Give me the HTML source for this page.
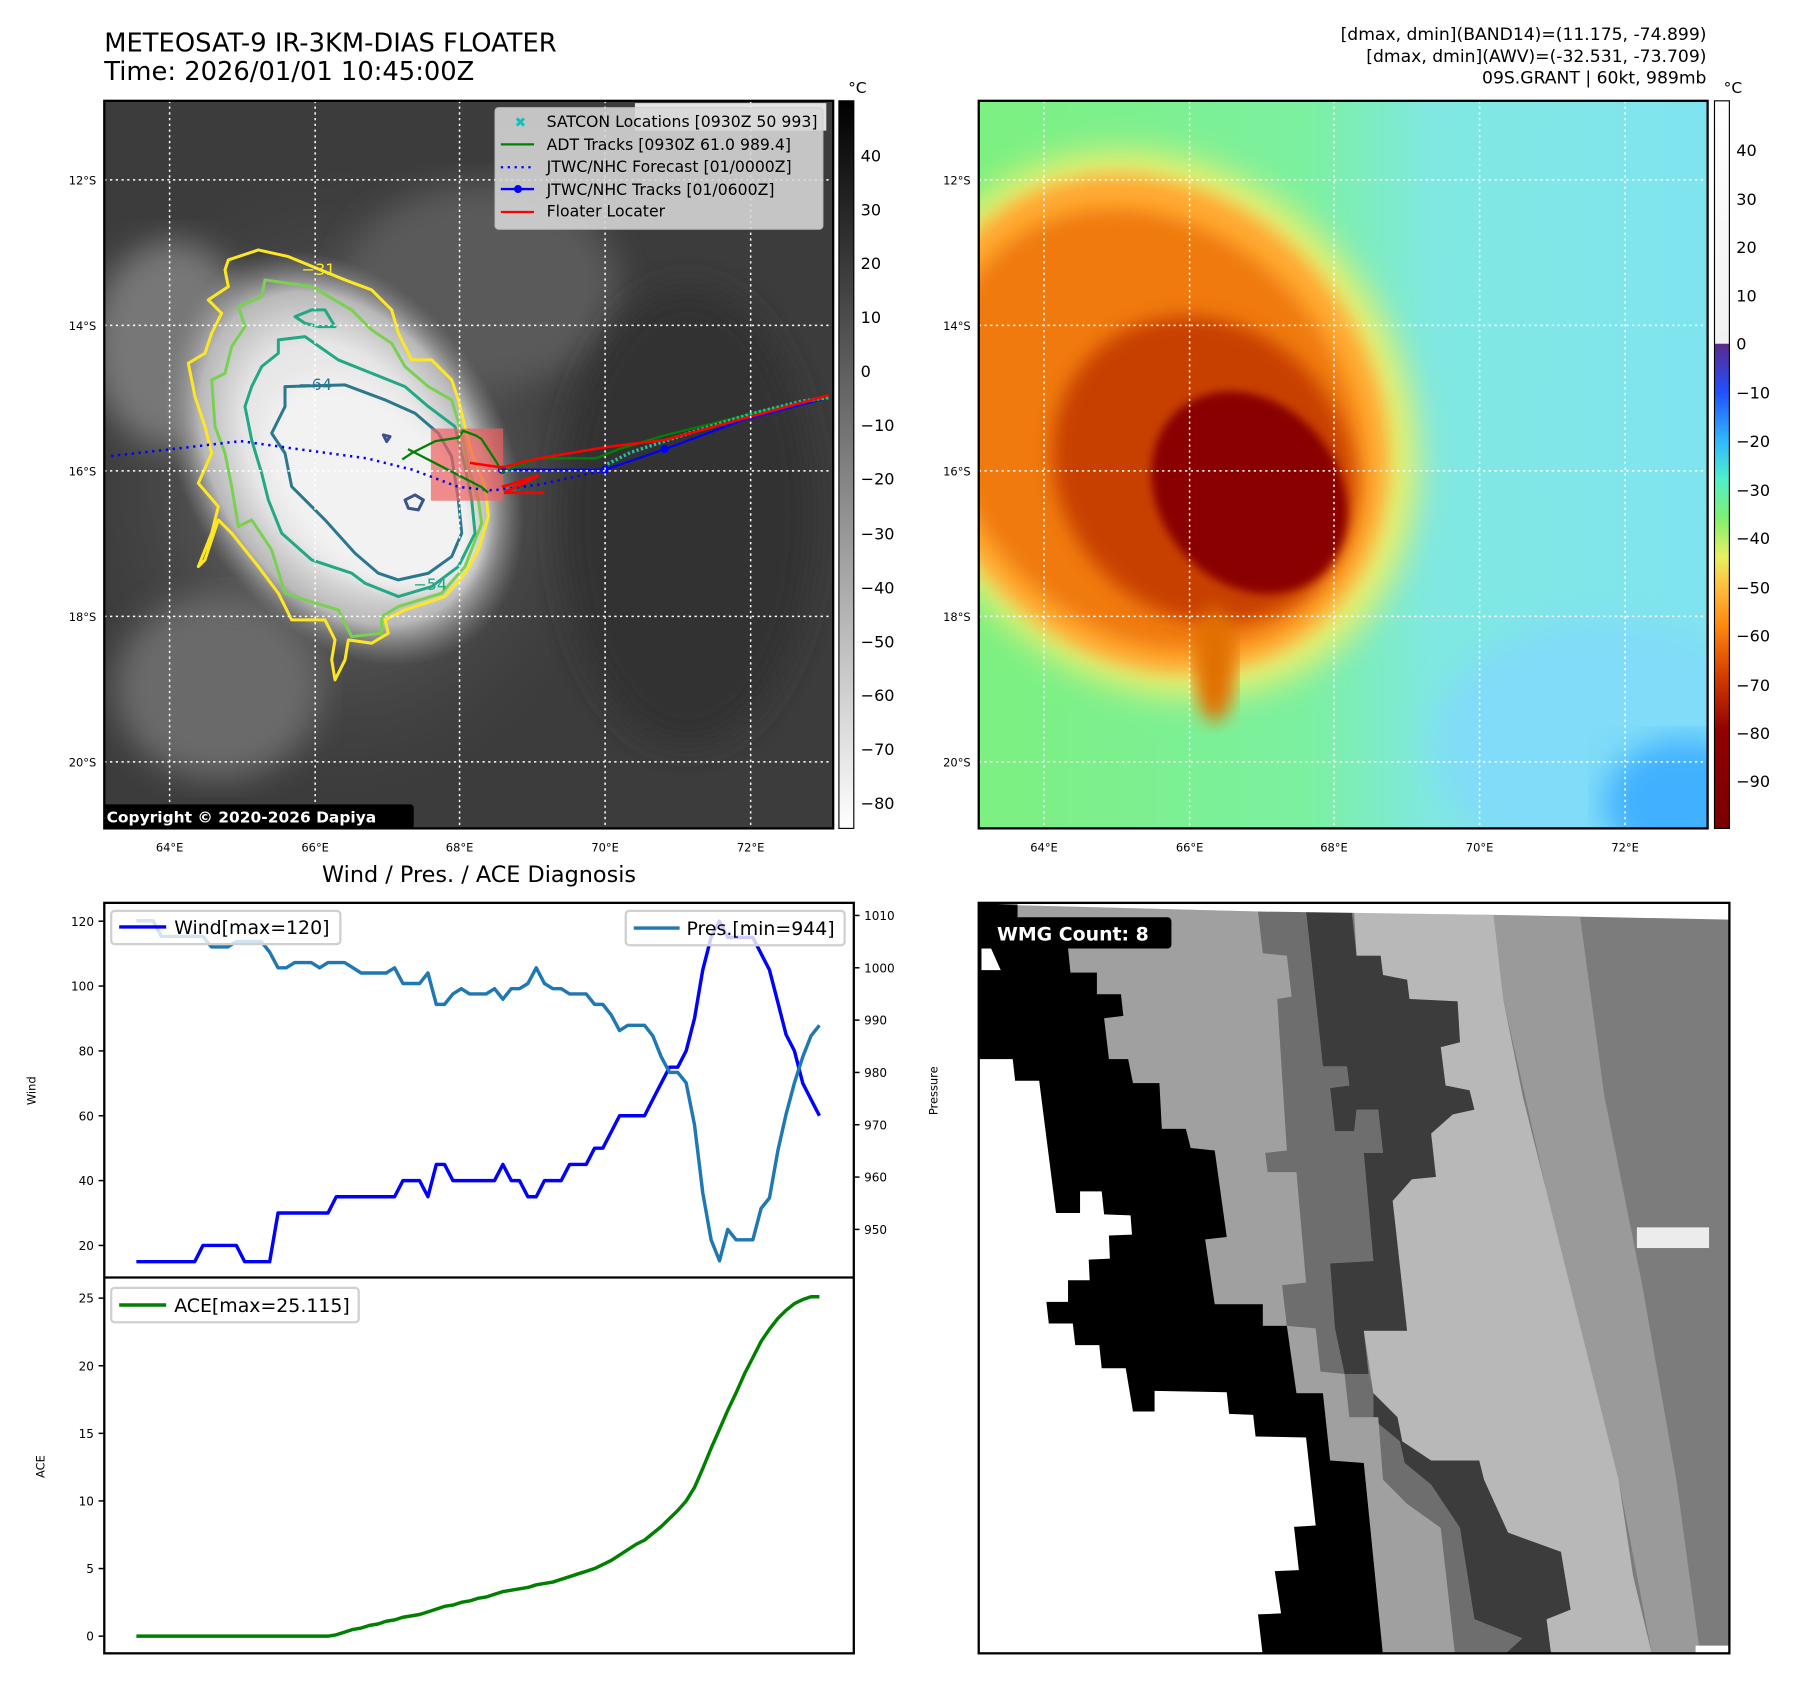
<!DOCTYPE html>
<html><head><meta charset="utf-8">
<style>
html,body{margin:0;padding:0;background:#fff;}
svg{display:block;font-family:"DejaVu Sans","Liberation Sans",sans-serif;}
</style></head>
<body>
<svg id="root" width="1797" height="1690" viewBox="0 0 1568 1475" preserveAspectRatio="none" xmlns="http://www.w3.org/2000/svg">
<defs>
  <filter id="blur8"><feGaussianBlur stdDeviation="8"/></filter>
  <filter id="blur14"><feGaussianBlur stdDeviation="14"/></filter>
  <filter id="blur4"><feGaussianBlur stdDeviation="4"/></filter>
  <clipPath id="clipL"><rect x="91" y="88" width="636" height="635"/></clipPath>
  <clipPath id="clipR"><rect x="854" y="88" width="636" height="635"/></clipPath>
  <clipPath id="clipB"><rect x="854" y="788" width="655" height="655"/></clipPath>
  <linearGradient id="cbGray" x1="0" y1="0" x2="0" y2="1">
    <stop offset="0" stop-color="#000"/><stop offset="1" stop-color="#fff"/>
  </linearGradient>
  <linearGradient id="cbTop" x1="0" y1="0" x2="0" y2="1">
    <stop offset="0" stop-color="#fff"/><stop offset="1" stop-color="#f2f2f2"/>
  </linearGradient>
  <linearGradient id="cbCol" x1="0" y1="0" x2="0" y2="1">
    <stop offset="0" stop-color="#5b2a8c"/>
    <stop offset="0.1" stop-color="#2050ff"/>
    <stop offset="0.2" stop-color="#30b8ff"/>
    <stop offset="0.28" stop-color="#50f0c8"/>
    <stop offset="0.36" stop-color="#80f070"/>
    <stop offset="0.44" stop-color="#e8f060"/>
    <stop offset="0.5" stop-color="#ffc040"/>
    <stop offset="0.58" stop-color="#ff8a10"/>
    <stop offset="0.68" stop-color="#d84000"/>
    <stop offset="0.8" stop-color="#900000"/>
    <stop offset="1" stop-color="#7a0000"/>
  </linearGradient>
  <radialGradient id="cloudG" cx="0.5" cy="0.5" r="0.5">
    <stop offset="0" stop-color="#f4f4f4"/><stop offset="0.55" stop-color="#e6e6e6"/>
    <stop offset="0.8" stop-color="#b8b8b8"/><stop offset="1" stop-color="#888" stop-opacity="0"/>
  </radialGradient>
  <radialGradient id="haloG" cx="0.5" cy="0.5" r="0.5">
    <stop offset="0" stop-color="#8a8a8a"/><stop offset="1" stop-color="#3a3a3a" stop-opacity="0"/>
  </radialGradient>
  <linearGradient id="rBg" x1="0" y1="0" x2="1" y2="0">
    <stop offset="0" stop-color="#7cf080"/><stop offset="0.45" stop-color="#7cf0a0"/>
    <stop offset="0.62" stop-color="#80e8e0"/><stop offset="1" stop-color="#80e4f0"/>
  </linearGradient>
</defs>

<text x="91" y="45" font-size="22.5">METEOSAT-9 IR-3KM-DIAS FLOATER</text>
<text x="91" y="70" font-size="22.5">Time: 2026/01/01 10:45:00Z</text>
<g font-size="15" text-anchor="end">
  <text x="1489" y="35">[dmax, dmin](BAND14)=(11.175, -74.899)</text>
  <text x="1489" y="54">[dmax, dmin](AWV)=(-32.531, -73.709)</text>
  <text x="1489" y="73">09S.GRANT | 60kt, 989mb</text>
</g>

<!-- LEFT MAP -->
<g clip-path="url(#clipL)">
  <rect x="91" y="88" width="636" height="635" fill="#3c3c3c"/>
  <ellipse cx="300" cy="420" rx="260" ry="300" fill="url(#haloG)"/>
  <ellipse cx="190" cy="600" rx="90" ry="80" fill="#6a6a6a" filter="url(#blur14)"/>
  <ellipse cx="150" cy="300" rx="70" ry="90" fill="#777" filter="url(#blur14)"/>
  <ellipse cx="420" cy="250" rx="120" ry="90" fill="#5a5a5a" filter="url(#blur14)"/>
  <ellipse cx="600" cy="450" rx="110" ry="200" fill="#323232" filter="url(#blur14)"/>
  <ellipse cx="300" cy="400" rx="140" ry="195" transform="rotate(-32 300 400)" fill="url(#cloudG)"/>
  <ellipse cx="325" cy="425" rx="70" ry="110" transform="rotate(-45 325 425)" fill="#f2f2f2" filter="url(#blur8)"/>
  <g transform="translate(91.6,174.5) scale(0.2909)" fill="none" stroke-width="9" stroke-linejoin="round">
    <polygon stroke="#fde725" points="370,180 460,150 550,170 720,240 800,270 860,330 880,400 920,480 980,480 1040,540 1060,600 1080,680 1100,760 1140,860 1150,950 1120,1050 1080,1120 1020,1190 900,1230 840,1260 850,1300 800,1330 730,1320 720,1380 690,1440 680,1380 690,1320 660,1260 560,1260 520,1180 460,1100 380,1000 340,960 300,1080 280,1100 320,1000 340,920 280,850 320,760 300,680 270,590 250,490 300,460 320,400 350,340 310,300 370,260 360,210"/>
    <polygon stroke="#7ad151" points="480,240 620,260 740,330 800,390 860,430 900,500 970,560 1040,600 1070,700 1090,800 1120,900 1130,970 1080,1100 1010,1180 880,1220 830,1250 830,1300 740,1310 700,1230 600,1200 540,1180 500,1050 440,960 400,980 380,860 360,760 330,680 320,540 360,520 380,440 420,380 400,320 470,290"/>
    <polygon stroke="#22a884" points="520,420 600,410 700,480 800,520 900,560 970,620 1050,680 1080,800 1100,900 1110,1000 1060,1100 980,1160 880,1190 780,1150 740,1120 620,1080 530,1000 490,900 470,820 440,720 420,620 440,560 470,500 520,460"/>
    <polygon stroke="#22a884" points="570,350 620,330 660,330 690,380 640,380 600,370"/>
    <polygon stroke="#2a788e" points="540,560 720,555 840,600 930,640 1000,700 1040,770 1060,900 1070,1000 1040,1070 970,1120 880,1140 820,1120 750,1060 660,960 560,860 540,760 500,700 540,620"/>
    <polygon stroke="#3b528b" points="900,900 930,885 955,900 940,930 910,925"/>
    <polygon stroke="#3b528b" points="835,705 855,710 845,725"/>
    <text x="590" y="225" font-size="48" fill="#fde725" stroke="none">−31</text>
    <text x="580" y="570" font-size="48" fill="#2a788e" stroke="none">−64</text>
    <text x="925" y="1170" font-size="48" fill="#22a884" stroke="none">−54</text>
  </g>
  <rect x="376" y="374" width="63" height="63" fill="#f06060" opacity="0.7"/>
  <polyline points="97,398 150,392 210,385 260,392 320,400 360,410 400,425 430,428 470,423 530,410" fill="none" stroke="#0000ff" stroke-width="2.2" stroke-dasharray="2,4"/>
  <polyline points="438,410 480,410 528,410 580,392 650,366 723,347" fill="none" stroke="#0000ff" stroke-width="2"/>
  <circle cx="438" cy="410" r="3.5" fill="#00f"/><circle cx="528" cy="410" r="3.5" fill="#00f"/><circle cx="580" cy="392" r="3.5" fill="#00f"/>
  <polyline points="351,401 360,395 380,385 400,382 404,376 415,380 420,383 433,403 438,412 470,400 520,400 540,392 580,380 620,370 680,355 723,347" fill="none" stroke="#008000" stroke-width="2"/>
  <polyline points="356,392 420,425 426,430" fill="none" stroke="#008000" stroke-width="2"/>
  <polyline points="530,405 550,395 580,385 620,372 660,360 700,350 723,347" fill="none" stroke="#20c0a0" stroke-width="3" stroke-dasharray="2,2"/>
  <polyline points="410,404 438,408 470,400 530,390 580,384 650,365 723,345" fill="none" stroke="#ff0000" stroke-width="2.2"/>
  <polyline points="438,425 470,415 440,430 475,430" fill="none" stroke="#ff0000" stroke-width="2.5"/>
  <g stroke="#fff" stroke-width="1.3" stroke-dasharray="2,3">
    <line x1="91" y1="157" x2="727" y2="157"/><line x1="91" y1="284" x2="727" y2="284"/><line x1="91" y1="411" x2="727" y2="411"/><line x1="91" y1="538" x2="727" y2="538"/><line x1="91" y1="665" x2="727" y2="665"/>
    <line x1="148" y1="88" x2="148" y2="723"/><line x1="275" y1="88" x2="275" y2="723"/><line x1="401" y1="88" x2="401" y2="723"/><line x1="528" y1="88" x2="528" y2="723"/><line x1="655" y1="88" x2="655" y2="723"/>
  </g>
  <rect x="554" y="90" width="167" height="24" fill="#fff" opacity="0.85"/>
  <g>
    <rect x="432" y="94" width="286" height="106" rx="3" fill="#d8d8d8" opacity="0.88" stroke="#ccc"/>
    <text x="449" y="111" font-size="12" fill="#10c0c0" font-weight="bold">✖</text>
    <line x1="437" y1="126" x2="466" y2="126" stroke="#008000" stroke-width="2"/>
    <line x1="437" y1="146" x2="466" y2="146" stroke="#00f" stroke-width="2" stroke-dasharray="2,4"/>
    <line x1="437" y1="165" x2="466" y2="165" stroke="#00f" stroke-width="2"/><circle cx="452" cy="165" r="3.5" fill="#00f"/>
    <line x1="437" y1="185" x2="466" y2="185" stroke="#f00" stroke-width="2"/>
    <g font-size="13.7" fill="#000">
      <text x="477" y="111">SATCON Locations [0930Z 50 993]</text>
      <text x="477" y="131">ADT Tracks [0930Z 61.0 989.4]</text>
      <text x="477" y="150">JTWC/NHC Forecast [01/0000Z]</text>
      <text x="477" y="170">JTWC/NHC Tracks [01/0600Z]</text>
      <text x="477" y="189">Floater Locater</text>
    </g>
  </g>
  <rect x="89" y="702" width="272" height="21" rx="3" fill="#000"/>
  <text x="93" y="718" font-size="13.5" font-weight="bold" fill="#fff">Copyright © 2020-2026 Dapiya</text>
</g>
<rect x="91" y="88" width="636" height="635" fill="none" stroke="#000" stroke-width="2"/>
<g font-size="10" text-anchor="end">
  <text x="84" y="161">12°S</text><text x="84" y="288">14°S</text><text x="84" y="415">16°S</text><text x="84" y="542">18°S</text><text x="84" y="669">20°S</text>
</g>
<g font-size="10" text-anchor="middle">
  <text x="148" y="743">64°E</text><text x="275" y="743">66°E</text><text x="401" y="743">68°E</text><text x="528" y="743">70°E</text><text x="655" y="743">72°E</text>
</g>
<g>
  <rect x="732" y="88" width="13" height="635" fill="url(#cbGray)" stroke="#000" stroke-width="1"/>
  <text x="740" y="81" font-size="13.5">°C</text>
  <g font-size="14">
    <text x="751" y="141">40</text><text x="751" y="188">30</text><text x="751" y="235">20</text><text x="751" y="282">10</text><text x="751" y="329">0</text>
    <text x="751" y="376">−10</text><text x="751" y="423">−20</text><text x="751" y="471">−30</text><text x="751" y="518">−40</text><text x="751" y="565">−50</text>
    <text x="751" y="612">−60</text><text x="751" y="659">−70</text><text x="751" y="706">−80</text>
  </g>
</g>

<!-- RIGHT MAP -->
<g clip-path="url(#clipR)">
  <rect x="854" y="88" width="636" height="635" fill="url(#rBg)"/>
  <ellipse cx="1400" cy="650" rx="150" ry="110" fill="#80dcf8" filter="url(#blur14)"/>
  <ellipse cx="1470" cy="700" rx="70" ry="55" fill="#40b0ff" filter="url(#blur14)"/>
  <ellipse cx="1010" cy="370" rx="215" ry="250" transform="rotate(-35 1010 370)" fill="#e8f070" filter="url(#blur14)"/>
  <ellipse cx="1005" cy="370" rx="195" ry="228" transform="rotate(-35 1005 370)" fill="#ffa830" filter="url(#blur8)"/>
  <ellipse cx="1005" cy="375" rx="170" ry="205" transform="rotate(-38 1005 375)" fill="#f07a10" filter="url(#blur8)"/>
  <ellipse cx="1050" cy="410" rx="125" ry="140" transform="rotate(-40 1050 410)" fill="#c84000" filter="url(#blur8)"/>
  <ellipse cx="1090" cy="430" rx="78" ry="95" transform="rotate(-40 1090 430)" fill="#8a0000" filter="url(#blur4)"/>
  <ellipse cx="1060" cy="580" rx="18" ry="50" fill="#e07000" filter="url(#blur8)"/>
  <g stroke="#fff" stroke-width="1.3" stroke-dasharray="2,3">
    <line x1="854" y1="157" x2="1490" y2="157"/><line x1="854" y1="284" x2="1490" y2="284"/><line x1="854" y1="411" x2="1490" y2="411"/><line x1="854" y1="538" x2="1490" y2="538"/><line x1="854" y1="665" x2="1490" y2="665"/>
    <line x1="911" y1="88" x2="911" y2="723"/><line x1="1038" y1="88" x2="1038" y2="723"/><line x1="1164" y1="88" x2="1164" y2="723"/><line x1="1291" y1="88" x2="1291" y2="723"/><line x1="1418" y1="88" x2="1418" y2="723"/>
  </g>
</g>
<rect x="854" y="88" width="636" height="635" fill="none" stroke="#000" stroke-width="2"/>
<g font-size="10" text-anchor="end">
  <text x="847" y="161">12°S</text><text x="847" y="288">14°S</text><text x="847" y="415">16°S</text><text x="847" y="542">18°S</text><text x="847" y="669">20°S</text>
</g>
<g font-size="10" text-anchor="middle">
  <text x="911" y="743">64°E</text><text x="1038" y="743">66°E</text><text x="1164" y="743">68°E</text><text x="1291" y="743">70°E</text><text x="1418" y="743">72°E</text>
</g>
<g>
  <rect x="1496" y="88" width="13" height="212" fill="url(#cbTop)"/>
  <rect x="1496" y="300" width="13" height="423" fill="url(#cbCol)"/>
  <rect x="1496" y="88" width="13" height="635" fill="none" stroke="#000" stroke-width="1"/>
  <text x="1504" y="81" font-size="13.5">°C</text>
  <g font-size="14">
    <text x="1515" y="136">40</text><text x="1515" y="179">30</text><text x="1515" y="221">20</text><text x="1515" y="263">10</text><text x="1515" y="305">0</text>
    <text x="1515" y="348">−10</text><text x="1515" y="390">−20</text><text x="1515" y="433">−30</text><text x="1515" y="475">−40</text><text x="1515" y="518">−50</text>
    <text x="1515" y="560">−60</text><text x="1515" y="603">−70</text><text x="1515" y="645">−80</text><text x="1515" y="687">−90</text>
  </g>
</g>

<!-- BOTTOM RIGHT WMG -->
<g clip-path="url(#clipB)">
  <g transform="translate(854.3,788) scale(0.4196)">
    <rect x="0" y="0" width="1566" height="1566" fill="#7c7c7c"/>
    <polygon fill="#9a9a9a" points="1070,25 1250,30 1300,400 1380,800 1450,1200 1500,1566 1400,1566 1330,1200 1280,1000 1180,600 1090,200"/>
    <polygon fill="#b8b8b8" points="780,20 1070,25 1090,200 1130,400 1180,600 1230,800 1280,1000 1330,1200 1360,1400 1400,1566 1190,1566 1180,1490 1230,1470 1210,1350 1100,1310 1050,1200 1040,1160 940,1160 880,1120 870,1070 820,1020 800,890 890,890 860,620 900,575 950,570 940,480 985,440 1030,430 1020,390 970,380 960,300 1000,290 995,205 895,200 890,160 840,150 835,110 785,110"/>
    <polygon fill="#3c3c3c" points="680,18 775,18 785,110 835,110 840,150 890,160 895,200 995,205 1000,290 960,300 970,380 1020,390 1030,430 985,440 940,480 950,570 900,575 860,620 890,890 800,890 810,980 760,980 740,885 730,750 820,745 800,520 840,520 830,430 785,430 780,475 740,475 730,385 770,380 765,340 715,340 690,110"/>
    <polygon fill="#3c3c3c" points="820,1020 870,1070 880,1120 940,1160 1040,1160 1050,1200 1100,1310 1210,1350 1230,1470 1180,1490 1190,1566 1090,1566 1090,1535 1130,1530 1030,1490 1000,1300 940,1210 885,1165 875,1120 820,1075"/>
    <polygon fill="#6e6e6e" points="580,18 680,18 690,110 715,340 765,340 770,380 730,385 740,475 780,475 785,430 830,430 840,520 800,520 820,745 730,750 740,885 760,980 810,980 820,1020 820,1075 875,1120 885,1165 940,1210 1000,1300 1030,1490 1130,1530 1090,1566 990,1566 960,1300 890,1250 840,1200 830,1070 770,1070 760,980 710,975 700,885 640,880 630,795 680,790 660,560 600,560 595,520 640,515 620,200 650,195 640,110 590,105"/>
    <polygon fill="#a0a0a0" points="80,5 580,18 590,105 640,110 650,195 620,200 640,515 595,520 600,560 660,560 680,790 630,795 640,880 700,885 710,975 760,980 770,1070 830,1070 840,1200 890,1250 960,1300 990,1566 840,1566 800,1165 730,1160 715,1020 660,1020 640,880 590,880 590,835 490,835 470,700 515,695 490,515 440,510 430,470 380,470 375,375 320,375 310,325 270,325 260,240 300,235 295,190 245,190 245,145 190,145 185,95 80,95"/>
    <polygon fill="#000" points="0,0 80,5 80,95 185,95 190,145 245,145 245,190 295,190 300,235 260,240 270,325 310,325 320,375 375,375 380,470 430,470 440,510 490,515 515,695 470,700 490,835 590,835 590,880 640,880 660,1020 715,1020 730,1160 800,1165 840,1566 0,1566"/>
    <polygon fill="#fff" points="0,325 70,325 75,370 125,370 160,645 210,645 210,600 255,600 260,648 315,650 318,690 270,692 272,740 228,742 230,785 185,785 185,830 140,830 145,875 195,875 200,920 250,920 255,968 305,968 320,1058 365,1058 365,1015 515,1018 520,1063 570,1065 575,1110 680,1112 700,1295 655,1298 665,1388 615,1390 628,1478 580,1480 590,1566 0,1566"/>
    <polygon fill="#fff" points="5,95 25,95 45,140 5,140"/>
    <polygon fill="#fff" points="80,0 1566,0 1566,35 1070,25 580,18 80,5"/>
    <rect x="1368" y="675" width="150" height="43" fill="#ececec"/>
    <rect x="1490" y="1545" width="76" height="21" fill="#fff"/>
    <rect x="25" y="30" width="375" height="65" rx="8" fill="#000"/>
  </g>
  <text x="870" y="821" font-size="16.5" font-weight="bold" fill="#fff">WMG Count: 8</text>
</g>
<rect x="854" y="788" width="655" height="655" fill="none" stroke="#000" stroke-width="2"/>

<!-- BOTTOM LEFT CHART -->
<text x="418" y="770" font-size="19.5" text-anchor="middle">Wind / Pres. / ACE Diagnosis</text>
<g id="chart"></g>
<rect x="91" y="788" width="654" height="655" fill="none" stroke="#000" stroke-width="2"/>
<line x1="91" y1="1115" x2="745" y2="1115" stroke="#000" stroke-width="2"/>
<text transform="translate(31,952) rotate(-90)" font-size="10" text-anchor="middle">Wind</text>
<text transform="translate(818,952) rotate(-90)" font-size="10" text-anchor="middle">Pressure</text>
<text transform="translate(39,1280) rotate(-90)" font-size="10" text-anchor="middle">ACE</text>
<g>
  <rect x="97" y="795" width="200" height="29" rx="3" fill="#fff" fill-opacity="0.8" stroke="#d0d0d0" stroke-width="2"/>
  <line x1="104" y1="809" x2="145" y2="809" stroke="#0000ff" stroke-width="3"/>
  <text x="152" y="815" font-size="16.5">Wind[max=120]</text>
</g>
<g>
  <rect x="546" y="795" width="191" height="30" rx="3" fill="#fff" fill-opacity="0.8" stroke="#d0d0d0" stroke-width="2"/>
  <line x1="553" y1="810" x2="593" y2="810" stroke="#1f77b4" stroke-width="3"/>
  <text x="599" y="816" font-size="16.5">Pres.[min=944]</text>
</g>
<g>
  <rect x="97" y="1124" width="216" height="30" rx="3" fill="#fff" fill-opacity="0.8" stroke="#d0d0d0" stroke-width="2"/>
  <line x1="104" y1="1139" x2="145" y2="1139" stroke="#008000" stroke-width="3"/>
  <text x="152" y="1145" font-size="16.5">ACE[max=25.115]</text>
</g>
</svg>
<script>
const windValues = [15,15,15,15,15,15,15,15,20,20,20,20,20,15,15,15,15,30,30,30,30,30,30,30,35,35,35,35,35,35,35,35,40,40,40,35,45,45,40,40,40,40,40,40,45,40,40,35,35,40,40,40,45,45,45,50,50,55,60,60,60,60,65,70,75,75,80,90,105,115,120,115,115,115,115,110,105,95,85,80,70,65,60];
const presValues = [1009,1009,1009,1006,1006,1006,1006,1006,1006,1004,1004,1004,1005,1005,1005,1005,1003,1000,1000,1001,1001,1001,1000,1001,1001,1001,1000,999,999,999,999,1000,997,997,997,999,993,993,995,996,995,995,995,996,994,996,996,997,1000,997,996,996,995,995,995,993,993,991,988,989,989,989,987,983,980,980,978,970,957,948,944,950,948,948,948,954,956,965,972,978,983,987,989];
const aceValues = [0,0,0,0,0,0,0,0,0,0,0,0,0,0,0,0,0,0,0,0,0,0,0,0,0.1,0.3,0.5,0.6,0.8,0.9,1.1,1.2,1.4,1.5,1.6,1.8,2.0,2.2,2.3,2.5,2.6,2.8,2.9,3.1,3.3,3.4,3.5,3.6,3.8,3.9,4.0,4.2,4.4,4.6,4.8,5.0,5.3,5.6,6.0,6.4,6.8,7.1,7.6,8.1,8.7,9.3,10.0,11.0,12.4,13.9,15.3,16.7,18.0,19.4,20.6,21.8,22.7,23.5,24.1,24.6,24.9,25.1,25.1];
const windTicks = [20,40,60,80,100,120];
const presTicks = [950,960,970,980,990,1000,1010];
const aceTicks = [0,5,10,15,20,25];

const NS = 'http://www.w3.org/2000/svg';
const chart = document.getElementById('chart');
const n = windValues.length;
function xPos(i){ return 119 + (715-119) * i / (n-1); }
function yWind(v){ return 1087 - (v-20) * (1087-804) / 100; }
function yPres(v){ return 1073 - (v-950) * (1073-799) / 60; }
function yAce(v){ return 1428 - v * (1428-1133) / 25; }

function mk(tag, attrs){ const e = document.createElementNS(NS, tag); for (const k in attrs) e.setAttribute(k, attrs[k]); return e; }

function axis(ticks, fy, x, dir, name){
  ticks.forEach(t => {
    const y = fy(t);
    const ln = mk('line', {x1:x, y1:y, x2:x+dir*5, y2:y, stroke:'#000', 'stroke-width':1.3});
    
    
    chart.appendChild(ln);
    const tx = mk('text', {x: dir<0 ? x-9 : x+9, y: y+4, 'font-size': 10.5, 'text-anchor': dir<0 ? 'end' : 'start'});
    tx.textContent = t;
    
    
    chart.appendChild(tx);
  });
}
axis(windTicks, yWind, 91, -1, 'wind-axis');
axis(presTicks, yPres, 745, 1, 'pressure-axis');
axis(aceTicks, yAce, 91, -1, 'ace-axis');

function line(vals, fy, color, name){
  const pts = vals.map((v,i) => xPos(i).toFixed(1) + ',' + fy(v).toFixed(1)).join(' ');
  const pl = mk('polyline', {points: pts, fill:'none', stroke: color, 'stroke-width': 3, 'stroke-linejoin':'round'});
  
  
  chart.appendChild(pl);
}
line(windValues, yWind, '#0000ff', 'wind-line');
line(presValues, yPres, '#1f77b4', 'pressure-line');
line(aceValues, yAce, '#008000', 'ace-line');
</script>
</body></html>
